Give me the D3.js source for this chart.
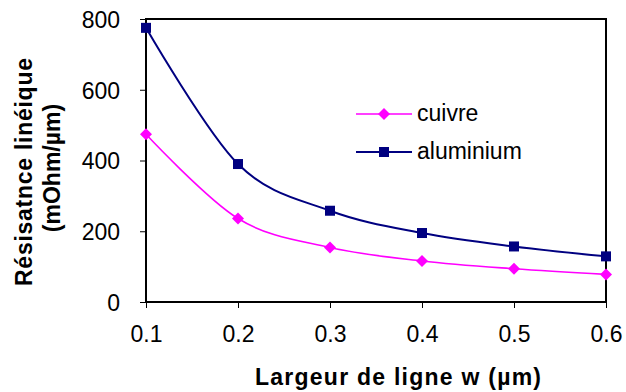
<!DOCTYPE html>
<html><head><meta charset="utf-8">
<script src="https://cdn.jsdelivr.net/npm/d3@7"></script>
<style>body{margin:0;background:#fff}svg{display:block}</style>
</head><body>
<script>
const widths = [0.1, 0.2, 0.3, 0.4, 0.5, 0.6];
const cuivre = [474, 236, 154, 116, 94, 78];
const aluminium = [775, 390, 258, 195, 157, 129];
const yTicks = [0, 200, 400, 600, 800];
const xTicks = [0.1, 0.2, 0.3, 0.4, 0.5, 0.6];
const seriesNames = ["cuivre", "aluminium"];

const W = 626, H = 392;
const svg = d3.select("body").append("svg").attr("width", W).attr("height", H);
const x = d3.scaleLinear().domain([0.1, 0.6]).range([146, 606]);
const y = d3.scaleLinear().domain([0, 800]).range([302, 19]);
const font = "Arial, 'Liberation Sans', sans-serif";

// frame
svg.append("rect").attr("x", x(0.1)).attr("y", y(800)).attr("width", x(0.6) - x(0.1)).attr("height", y(0) - y(800))
  .attr("fill", "none").attr("stroke", "#000").attr("stroke-width", 2);

const ya = svg.append("g").attr("transform", `translate(${x(0.1)},0)`)
  .call(d3.axisLeft(y).tickValues(yTicks).tickSize(6).tickPadding(20).tickFormat(d3.format("d")));
ya.select(".domain").remove();
ya.selectAll("line").attr("stroke", "#000").attr("stroke-width", 1);
ya.selectAll("text").attr("font-family", font).attr("font-size", 23).attr("fill", "#000").attr("dy", "0.36em");

const xa = svg.append("g").attr("transform", `translate(0,${y(0)})`)
  .call(d3.axisBottom(x).tickValues(xTicks).tickSize(6).tickPadding(22).tickFormat(d3.format(".1f")));
xa.select(".domain").remove();
xa.selectAll("line").attr("stroke", "#000").attr("stroke-width", 1);
xa.selectAll("text").attr("font-family", font).attr("font-size", 23).attr("fill", "#000").attr("dy", "0.5em");

const line = d3.line().x((d, i) => x(widths[i])).y(d => y(d)).curve(d3.curveCardinal.tension(0));
const series = [
  {name: seriesNames[0], vals: cuivre, color: "#ff00ff", shape: "diamond", sw: 1.6},
  {name: seriesNames[1], vals: aluminium, color: "#000080", shape: "square", sw: 2}
];
function marker(g, shape, color, cx, cy) {
  if (shape === "diamond") {
    g.append("path").attr("d", `M${cx},${cy-6}L${cx+6},${cy}L${cx},${cy+6}L${cx-6},${cy}Z`).attr("fill", color);
  } else {
    g.append("rect").attr("x", cx - 5).attr("y", cy - 5).attr("width", 10).attr("height", 10).attr("fill", color);
  }
}
series.forEach(s => {
  svg.append("path").datum(s.vals).attr("d", line).attr("fill", "none").attr("stroke", s.color).attr("stroke-width", s.sw);
  const g = svg.append("g");
  s.vals.forEach((v, i) => marker(g, s.shape, s.color, x(widths[i]), y(v)));
});

// legend
series.forEach((s, i) => {
  const ly = 114 + i * 38;
  const g = svg.append("g");
  g.append("line").attr("x1", 356).attr("x2", 412).attr("y1", ly).attr("y2", ly).attr("stroke", s.color).attr("stroke-width", s.sw);
  marker(g, s.shape, s.color, 384, ly);
  g.append("text").attr("x", 417).attr("y", ly + 7).attr("font-family", font)
    .attr("font-size", 23).attr("fill", "#000").text(s.name);
});

// axis titles
svg.append("text").attr("x", 398).attr("y", 385).attr("text-anchor", "middle")
  .attr("font-family", font).attr("font-weight", "bold").attr("font-size", 23)
  .attr("textLength", 286).attr("lengthAdjust", "spacing").text("Largeur de ligne w (µm)");
svg.append("text").attr("transform", `translate(32,172) rotate(-90)`).attr("text-anchor", "middle")
  .attr("font-family", font).attr("font-weight", "bold").attr("font-size", 23)
  .attr("textLength", 228).attr("lengthAdjust", "spacing").text("Résisatnce linéique");
svg.append("text").attr("transform", `translate(60,168) rotate(-90)`).attr("text-anchor", "middle")
  .attr("font-family", font).attr("font-weight", "bold").attr("font-size", 23).text("(mOhm/µm)");
</script>
</body></html>
